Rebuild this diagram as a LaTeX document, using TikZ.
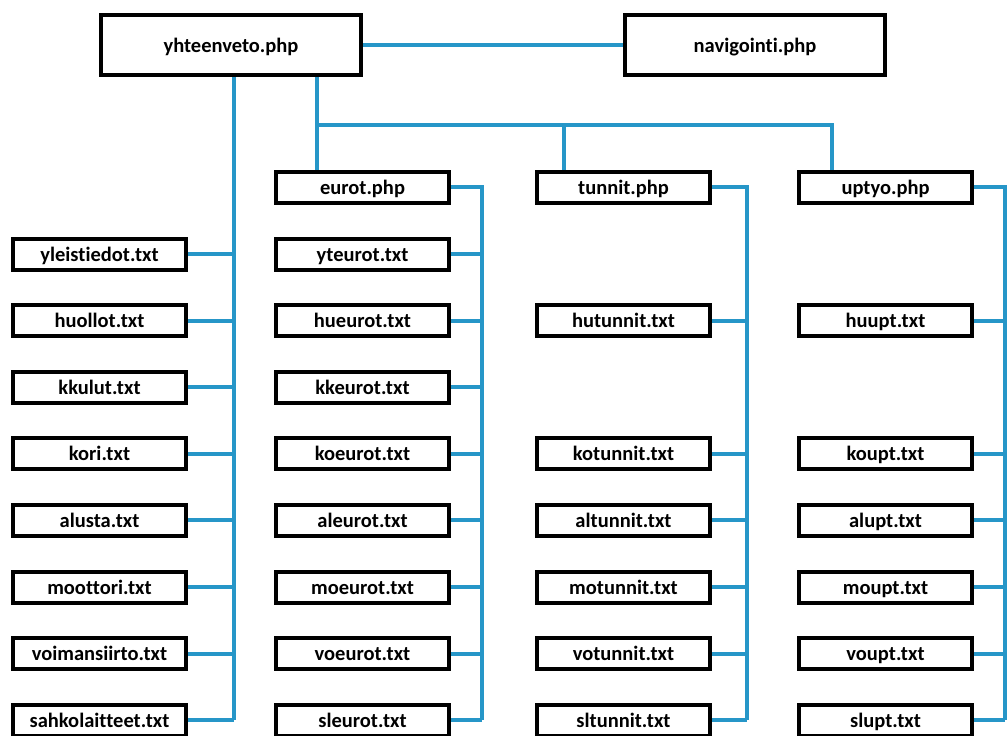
\documentclass[tikz,border=0pt]{standalone}
\usepackage{fontspec}
\setmainfont{Carlito}[Ligatures=NoCommon]
\definecolor{wire}{RGB}{38,150,200}
\begin{document}
\begin{tikzpicture}[x=1pt,y=-1pt,
  filebox/.style={draw=black,line width=4pt,fill=white,inner sep=0pt,
    minimum width=173pt,minimum height=31pt,text height=15pt,text depth=1pt,
    font=\fontsize{20.5}{23}\selectfont\bfseries},
  topbox/.style={filebox,minimum width=260pt,minimum height=60pt},
  wireline/.style={draw=wire,line width=4pt}]
\useasboundingbox (0,0) rectangle (1007,736);

% top level pages
\node[topbox] (yht) at (231,45) {yhteenveto.php};
\node[topbox] (nav) at (755,45) {navigointi.php};

% second level pages
\node[filebox] (eur) at (362.5,187) {eurot.php};
\node[filebox] (tun) at (623.5,187) {tunnit.php};
\node[filebox] (upt) at (885.5,187) {uptyo.php};

% column 1: general data files
\foreach \n/\t [count=\i from 0] in {a1/yleistiedot.txt,a2/huollot.txt,a3/kkulut.txt,a4/kori.txt,a5/alusta.txt,a6/moottori.txt,a7/voimansiirto.txt,a8/sahkolaitteet.txt}
  \node[filebox] (\n) at (99.5,254+66.6*\i) {\t};

% column 2: euro files
\foreach \n/\t [count=\i from 0] in {e1/yteurot.txt,e2/hueurot.txt,e3/kkeurot.txt,e4/koeurot.txt,e5/aleurot.txt,e6/moeurot.txt,e7/voeurot.txt,e8/sleurot.txt}
  \node[filebox] (\n) at (362.5,254+66.6*\i) {\t};

% column 3: hour files
\foreach \n/\t/\r in {t2/hutunnit.txt/1,t4/kotunnit.txt/3,t5/altunnit.txt/4,t6/motunnit.txt/5,t7/votunnit.txt/6,t8/sltunnit.txt/7}
  \node[filebox] (\n) at (623.5,254+66.6*\r) {\t};

% column 4: work files
\foreach \n/\t/\r in {u2/huupt.txt/1,u4/koupt.txt/3,u5/alupt.txt/4,u6/moupt.txt/5,u7/voupt.txt/6,u8/slupt.txt/7}
  \node[filebox] (\n) at (885.5,254+66.6*\r) {\t};

% bus coordinates
\coordinate (b1) at (234,720.2);
\coordinate (b2) at (482,720.2);
\coordinate (b3) at (747,720.2);
\coordinate (b4) at (1005,720.2);
\coordinate (j1) at (317,125);
\coordinate (j2) at (564,125);
\coordinate (j3) at (832,125);

\begin{scope}[on background layer/.try]
\path[wireline] (yht.east) -- (nav.west);
\path[wireline] (yht.south -| b1) -- (b1);
\path[wireline] (yht.south -| j1) -- (j1 |- eur.north);
\path[wireline,line cap=rect] (j1) -- (j3);
\path[wireline] (j2) -- (j2 |- tun.north);
\path[wireline] (j3) -- (j3 |- upt.north);
\path[wireline] (eur.east) -| (b2);
\path[wireline] (tun.east) -| (b3);
\path[wireline] (upt.east) -| (b4);
\foreach \n in {a1,a2,a3,a4,a5,a6,a7,a8}
  \path[wireline] (\n.east) -- (\n.east -| b1);
\foreach \n in {e1,e2,e3,e4,e5,e6,e7,e8}
  \path[wireline] (\n.east) -- (\n.east -| b2);
\foreach \n in {t2,t4,t5,t6,t7,t8}
  \path[wireline] (\n.east) -- (\n.east -| b3);
\foreach \n in {u2,u4,u5,u6,u7,u8}
  \path[wireline] (\n.east) -- (\n.east -| b4);
\end{scope}
\end{tikzpicture}
\end{document}
